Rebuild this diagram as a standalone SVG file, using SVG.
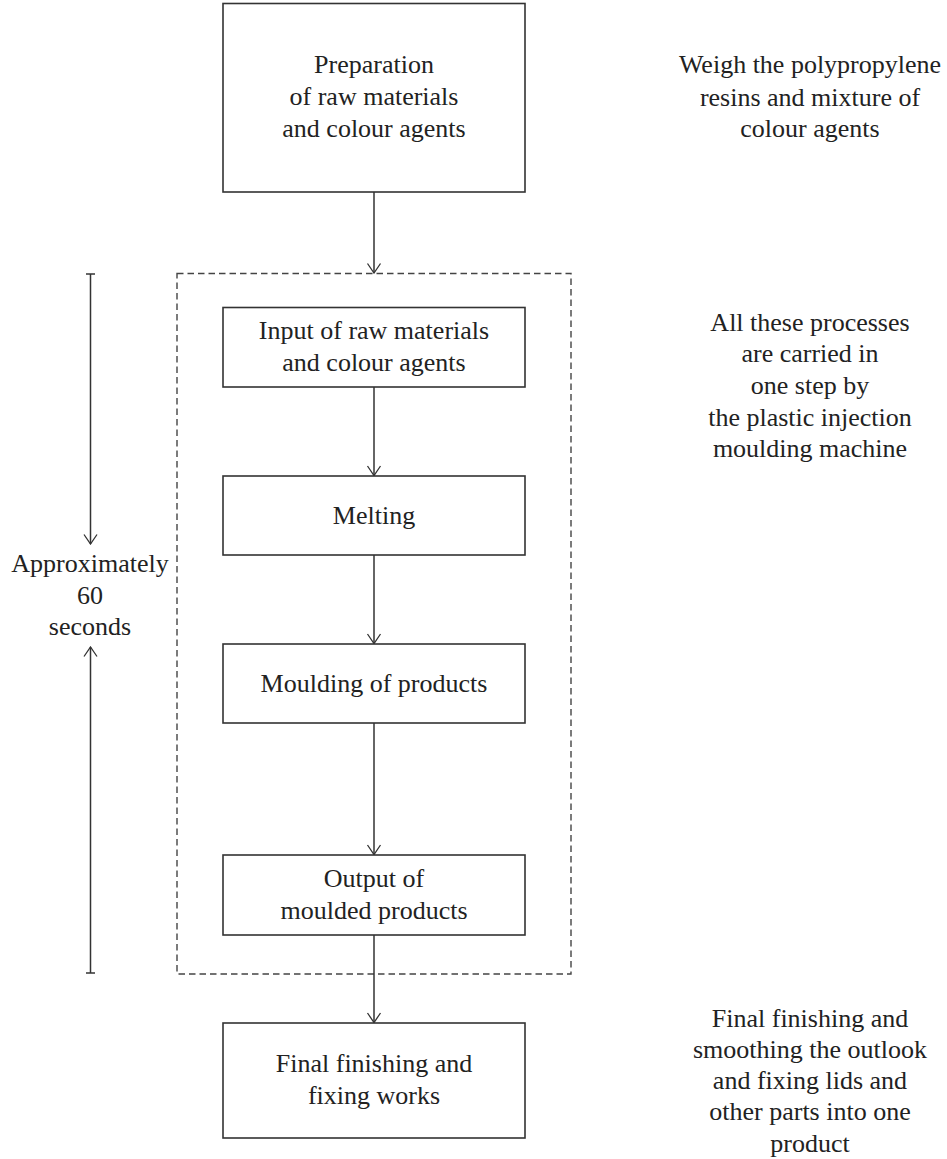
<svg xmlns="http://www.w3.org/2000/svg" width="947" height="1159" viewBox="0 0 947 1159">
  <style>
    .box { fill: #ffffff; stroke: #333333; stroke-width: 1.6; }
    .frame { fill: none; stroke: #444444; stroke-width: 1.4; stroke-dasharray: 6.5 4; }
    .line { fill: none; stroke: #333333; stroke-width: 1.5; }
    text { font-family: "Liberation Serif", "Times New Roman", serif; font-size: 26px; fill: #222222; text-anchor: middle; }
  </style>
  <defs>
    <!-- open V arrowhead, drawn pointing along +x -->
    <marker id="arrow" viewBox="0 0 12 16" refX="11" refY="8" markerWidth="12" markerHeight="16" markerUnits="userSpaceOnUse" orient="auto">
      <path d="M1.5 1.5 L11 8 L1.5 14.5" fill="none" stroke="#333333" stroke-width="1.3"/>
    </marker>
  </defs>

  <rect width="947" height="1159" fill="#ffffff"/>

  <!-- machine process boundary -->
  <rect id="machine-frame" class="frame" x="177" y="273.5" width="394" height="700.5"/>

  <!-- connectors -->
  <g id="connectors">
    <line class="line" x1="374" y1="192" x2="374" y2="273" marker-end="url(#arrow)"/>
    <line class="line" x1="374" y1="387" x2="374" y2="475.5" marker-end="url(#arrow)"/>
    <line class="line" x1="374" y1="555" x2="374" y2="643.5" marker-end="url(#arrow)"/>
    <line class="line" x1="374" y1="723" x2="374" y2="854.5" marker-end="url(#arrow)"/>
    <line class="line" x1="374" y1="935" x2="374" y2="1022.5" marker-end="url(#arrow)"/>
  </g>

  <!-- time span bracket -->
  <g id="duration">
    <line class="line" x1="86" y1="274" x2="95" y2="274"/>
    <line class="line" x1="90.5" y1="274" x2="90.5" y2="544" marker-end="url(#arrow)"/>
    <line class="line" x1="86" y1="973" x2="95" y2="973"/>
    <line class="line" x1="90.5" y1="973" x2="90.5" y2="647" marker-end="url(#arrow)"/>
    <text x="90" y="572">Approximately</text>
    <text x="90" y="603.5">60</text>
    <text x="90" y="635">seconds</text>
  </g>

  <g id="preparation">
    <rect class="box" x="223" y="3.5" width="302" height="188.5"/>
    <text x="374" y="73">Preparation</text>
    <text x="374" y="105">of raw materials</text>
    <text x="374" y="137">and colour agents</text>
  </g>

  <g id="input">
    <rect class="box" x="223" y="307.5" width="302" height="79.5"/>
    <text x="374" y="339">Input of raw materials</text>
    <text x="374" y="371">and colour agents</text>
  </g>

  <g id="melting">
    <rect class="box" x="223" y="476" width="302" height="79"/>
    <text x="374" y="524">Melting</text>
  </g>

  <g id="moulding">
    <rect class="box" x="223" y="644" width="302" height="79"/>
    <text x="374" y="692">Moulding of products</text>
  </g>

  <g id="output">
    <rect class="box" x="223" y="855" width="302" height="80"/>
    <text x="374" y="887">Output of</text>
    <text x="374" y="918.5">moulded products</text>
  </g>

  <g id="finishing">
    <rect class="box" x="223" y="1023" width="302" height="115"/>
    <text x="374" y="1072">Final finishing and</text>
    <text x="374" y="1103.5">fixing works</text>
  </g>

  <!-- side notes -->
  <g id="note-weigh">
    <text x="810" y="73">Weigh the polypropylene</text>
    <text x="810" y="105.5">resins and mixture of</text>
    <text x="810" y="137">colour agents</text>
  </g>

  <g id="note-machine">
    <text x="810" y="331">All these processes</text>
    <text x="810" y="362">are carried in</text>
    <text x="810" y="393.5">one step by</text>
    <text x="810" y="425.5">the plastic injection</text>
    <text x="810" y="457">moulding machine</text>
  </g>

  <g id="note-finishing">
    <text x="810" y="1026.5">Final finishing and</text>
    <text x="810" y="1057.5">smoothing the outlook</text>
    <text x="810" y="1089">and fixing lids and</text>
    <text x="810" y="1120">other parts into one</text>
    <text x="810" y="1151.5">product</text>
  </g>
</svg>
